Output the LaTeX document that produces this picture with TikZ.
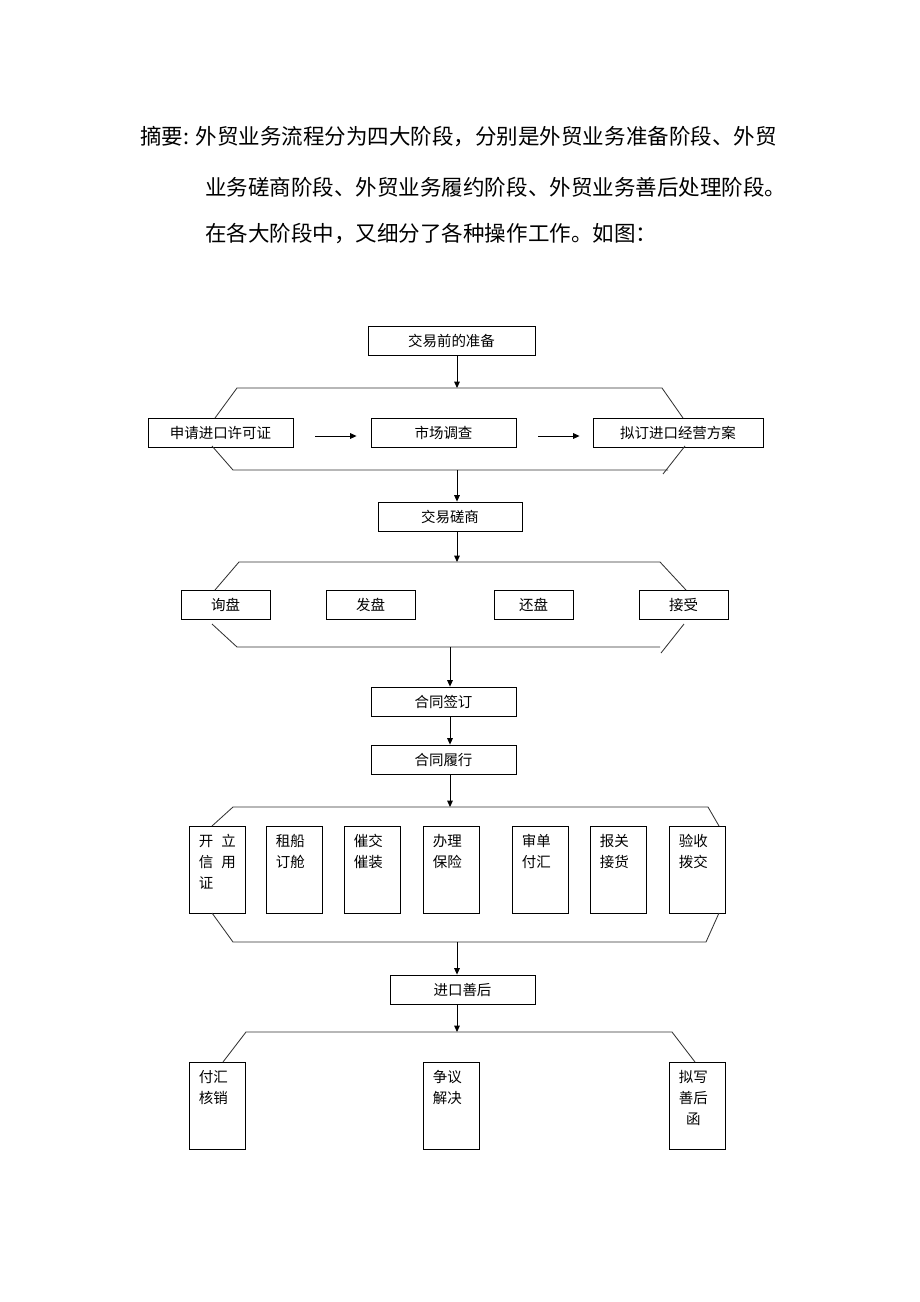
\documentclass[tikz,border=0pt]{standalone}
\usepackage{fontspec}
\setmainfont{Noto Sans CJK SC}
\usetikzlibrary{calc, arrows.meta}

\tikzset{
    box/.style={draw,line width=0.6pt,minimum height=0.725cm,inner sep=0pt,font=\fontsize{10.3}{14.9}\selectfont},
    tall/.style={draw,line width=0.6pt,minimum width=1.4cm,minimum height=2.175cm,inner sep=0pt,anchor=north west},
    tag/.style={anchor=north west,inner sep=0pt,align=left,xshift=0.24cm,yshift=-0.2cm,font=\fontsize{10.3}{14.9}\selectfont},
    hex/.style={line width=0.6pt,black!80},
    arr/.style={line width=0.6pt,-{Triangle[length=0.16cm,width=0.14cm]}}
}

\begin{document}
\begin{tikzpicture}[x=0.025cm,y=-0.025cm]
                \useasboundingbox (0,0) rectangle (920,1302);
                \node[anchor=west,inner sep=0pt,font=\fontsize{15.3}{18}\selectfont] (line1) at (140,137) {摘要: 外贸业务流程分为四大阶段，分别是外贸业务准备阶段、外贸};
                \node[anchor=west,inner sep=0pt,font=\fontsize{15.3}{18}\selectfont] (line2) at (205,187) {业务磋商阶段、外贸业务履约阶段、外贸业务善后处理阶段。};
                \node[anchor=west,inner sep=0pt,font=\fontsize{15.3}{18}\selectfont] (line3) at (205,234) {在各大阶段中，又细分了各种操作工作。如图：};

                \node[box,minimum width=4.175cm] (prep) at (451.5,340.5) {交易前的准备};
                \node[box,minimum width=3.625cm] (lic) at (220.5,432.5) {申请进口许可证};
                \node[box,minimum width=3.625cm] (mkt) at (443.5,432.5) {市场调查};
                \node[box,minimum width=4.25cm] (plan) at (678,432.5) {拟订进口经营方案};
                \node[box,minimum width=3.6cm] (nego) at (450,516.5) {交易磋商};
                \node[box,minimum width=2.225cm] (inq) at (225.5,604.5) {询盘};
                \node[box,minimum width=2.225cm] (offer) at (370.5,604.5) {发盘};
                \node[box,minimum width=1.975cm] (counter) at (533.5,604.5) {还盘};
                \node[box,minimum width=2.225cm] (accept) at (683.5,604.5) {接受};
                \node[box,minimum width=3.625cm] (sign) at (443.5,701.5) {合同签订};
                \node[box,minimum width=3.625cm] (perf) at (443.5,759.5) {合同履行};
                \node[box,minimum width=3.625cm] (after) at (462.5,989.5) {进口善后};

                \node[tall,label={[tag]north west:{开\hspace{0.2cm}立\\信\hspace{0.2cm}用\\证}}] (lc) at (189,826) {};
                \node[tall,label={[tag]north west:{租船\\订舱}}] (ship) at (266,826) {};
                \node[tall,label={[tag]north west:{催交\\催装}}] (urge) at (344,826) {};
                \node[tall,label={[tag]north west:{办理\\保险}}] (ins) at (423,826) {};
                \node[tall,label={[tag]north west:{审单\\付汇}}] (pay) at (512,826) {};
                \node[tall,label={[tag]north west:{报关\\接货}}] (cust) at (590,826) {};
                \node[tall,label={[tag]north west:{验收\\拨交}}] (insp) at (669,826) {};
                \node[tall,label={[tag]north west:{付汇\\核销}}] (vrf) at (189,1062) {};
                \node[tall,label={[tag]north west:{争议\\解决}}] (disp) at (423,1062) {};
                \node[tall,label={[tag,align=center]north west:{拟写\\善后\\函}}] (letter) at (669,1062) {};

                \draw[hex] (215,418)--(237,388)--(662,388)--(683,418);
                \draw[hex] (212,446)--(233,470)--(668,470);
                \draw[hex] (685,446)--(663,474);
                \draw[hex] (215,590)--(239,562)--(660,562)--(686,590);
                \draw[hex] (212,624)--(237,647)--(660,647);
                \draw[hex] (684,624)--(661,653);
                \draw[hex] (212,826)--(233,807)--(708,807)--(719,826);
                \draw[hex] (212,913)--(233,942)--(706,942)--(719,913);
                \draw[hex] (223,1062)--(246,1032)--(672,1032)--(695,1062);

                \coordinate (h1t) at (457,388);
                \coordinate (h1b) at (457,470);
                \coordinate (h2t) at (457,562);
                \coordinate (h2b) at (450,647);
                \coordinate (h3t) at (450,807);
                \coordinate (h3b) at (457,942);
                \coordinate (h4t) at (457,1032);
                \draw[arr] (prep.south -| h1t)--(h1t);
                \draw[arr] ($(lic.east)+(22,3.5)$)--($(mkt.west)+(-14,3.5)$);
                \draw[arr] ($(mkt.east)+(22,3.5)$)--($(plan.west)+(-13,3.5)$);
                \draw[arr] (h1b)--(nego.north -| h1b);
                \draw[arr] (nego.south -| h2t)--(h2t);
                \draw[arr] (h2b)--(sign.north -| h2b);
                \draw[arr] (sign.south -| h2b)--(perf.north -| h2b);
                \draw[arr] (perf.south -| h3t)--(h3t);
                \draw[arr] (h3b)--(after.north -| h3b);
                \draw[arr] (after.south -| h4t)--(h4t);
            \end{tikzpicture}
\end{document}
